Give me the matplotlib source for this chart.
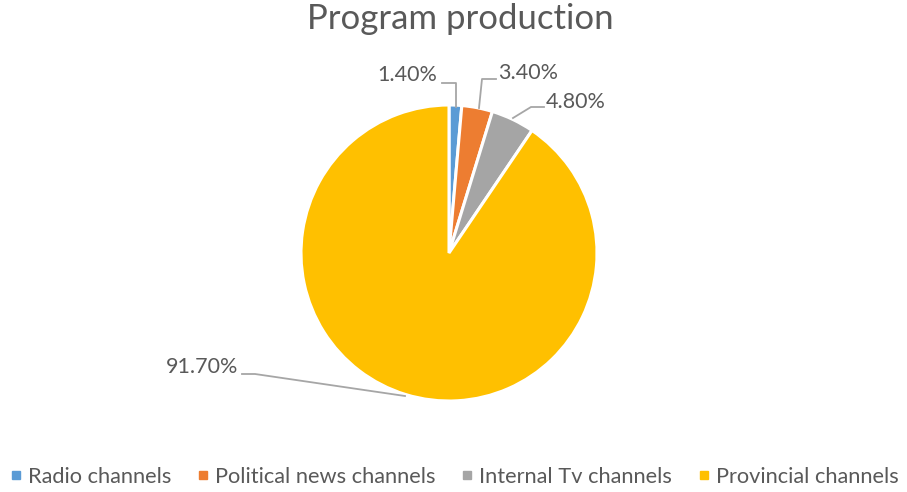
import matplotlib
matplotlib.use("Agg")
import matplotlib.pyplot as plt
from matplotlib.lines import Line2D

plt.rcParams['font.family'] = ['Lato', 'DejaVu Sans']

categories = ["Radio channels", "Political news channels", "Internal Tv channels", "Provincial channels"]
shares = [1.40, 3.40, 4.80, 91.70]
colors = ["#5B9BD5", "#ED7D31", "#A5A5A5", "#FFC000"]
text_color = "#595959"
line_color = "#A6A6A6"

W, H = 907, 492
fig = plt.figure(figsize=(W / 100, H / 100), dpi=100)

cx, cy, r = 449, 253, 148
ax = fig.add_axes([(cx - r) / W, (H - cy - r) / H, 2 * r / W, 2 * r / H])
wedges, _ = ax.pie(shares, colors=colors, startangle=90, counterclock=False,
                   wedgeprops=dict(edgecolor="white", linewidth=2.2))
ax.set_xlim(-1, 1)
ax.set_ylim(-1, 1)
ax.set_aspect("equal")
ax.axis("off")


def px(x, y):
    """pixel position -> pie data coordinates"""
    return ((x - cx) / r, (cy - y) / r)


# leader lines (polyline in pixel space) and label anchors
leaders = [
    ([(456, 107), (456, 83), (442, 83)], (437, 75), "right"),
    ([(479, 108), (482, 79), (496, 79)], (498, 73), "left"),
    ([(513, 118), (531, 107), (544, 107)], (546, 102), "left"),
    ([(405, 396), (255, 374), (242, 374)], (238, 367), "right"),
]
for (pts, (tx, ty), ha), val in zip(leaders, shares):
    xs, ys = zip(*[px(*p) for p in pts])
    ax.add_line(Line2D(xs, ys, color=line_color, lw=1.3, clip_on=False))
    lx, ly = px(tx, ty)
    ax.text(lx, ly, f"{val:.2f}%", ha=ha, va="center", color=text_color,
            fontsize=15.5)

fig.text(460 / W, 1 - 19 / H, "Program production", ha="center", va="center",
         color=text_color, fontsize=25)

handles = [Line2D([], [], marker="s", linestyle="none", markersize=6,
                  markerfacecolor=c, markeredgecolor=c) for c in colors]
fig.legend(handles, categories, loc="center", ncol=4,
           bbox_to_anchor=(454 / W, 1 - 477 / H), frameon=False,
           fontsize=15.7, labelcolor=text_color, handlelength=0.6,
           handletextpad=0.25, columnspacing=1.15, borderaxespad=0,
           borderpad=0)

fig.savefig("out.png", dpi=100)
